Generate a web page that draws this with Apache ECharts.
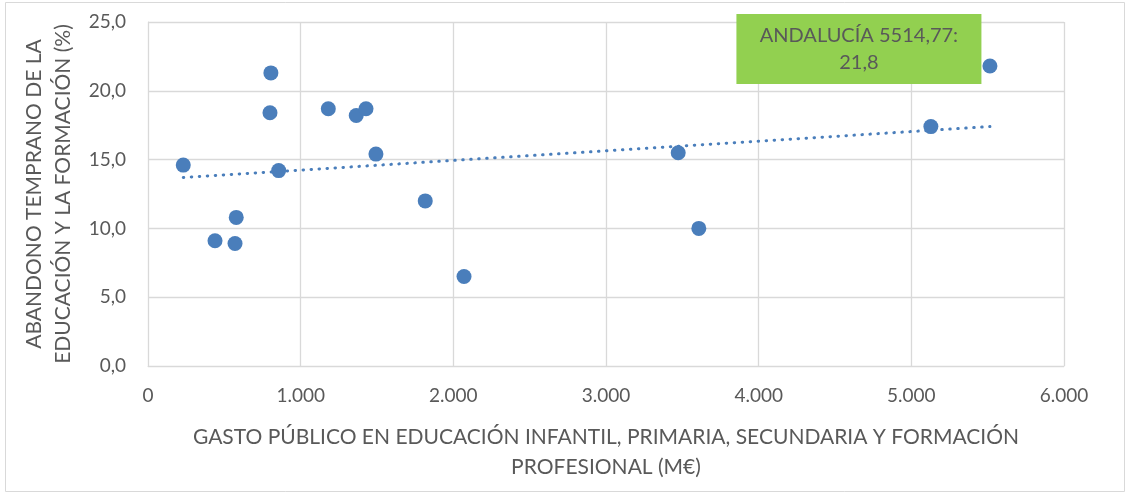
<!DOCTYPE html>
<html><head><meta charset="utf-8">
<script src="https://cdn.jsdelivr.net/npm/echarts@6/dist/echarts.min.js"></script>
<style>html,body{margin:0;padding:0;background:#fff}#c{width:1130px;height:495px}</style>
</head><body><div id="c"></div>
<script>
// Gasto público (M€) and abandono temprano (%) per comunidad
const gasto = [805, 799, 1181, 1364, 1428, 1493, 231, 856, 578, 439, 570, 1816, 2070, 3473, 3608, 5128, 5514.77];
const abandono = [21.3, 18.4, 18.7, 18.2, 18.7, 15.4, 14.6, 14.2, 10.8, 9.1, 8.9, 12.0, 6.5, 15.5, 10.0, 17.4, 21.8];
const trendX = [231, 5514.77];
const trendY = [13.7, 17.4];
const xTicks = [0, 1000, 2000, 3000, 4000, 5000, 6000];
const yTicks = [0, 5, 10, 15, 20, 25];
const labelIndex = 16;
const labelText = 'ANDALUCÍA 5514,77:\n21,8';

const font = 'Lato, "Open Sans", sans-serif';
const txt = '#595959';
const blue = '#4a7ebb';

const pts = gasto.map((g, i) => {
  const d = { value: [g, abandono[i]] };
  if (i === labelIndex) {
    d.label = {
      show: true, position: 'inside', offset: [-131, -17],
      formatter: labelText, backgroundColor: '#92d050',
      color: txt, fontFamily: font, fontSize: 20, lineHeight: 27,
      width: 225, padding: [8, 10], align: 'center'
    };
  }
  return d;
});

const chart = echarts.init(document.getElementById('c'), null, { renderer: 'canvas' });
chart.setOption({
  animation: false,
  backgroundColor: '#fff',
  graphic: [{ type: 'rect', shape: { x: 5.5, y: 2.5, width: 1119, height: 489 }, style: { fill: 'none', stroke: '#d9d9d9', lineWidth: 1 } }],
  grid: { left: 148, right: 66, top: 22, bottom: 129 },
  xAxis: {
    type: 'value', min: xTicks[0], max: xTicks[xTicks.length - 1], interval: 1000,
    axisLine: { show: true, lineStyle: { color: '#d9d9d9' } },
    axisTick: { show: false },
    splitLine: { show: true, lineStyle: { color: '#d9d9d9', width: 1.3 } },
    axisLabel: { color: txt, fontFamily: font, fontSize: 19, margin: 20,
      formatter: v => v === 0 ? '0' : v.toString().replace(/\B(?=(\d{3})+(?!\d))/g, '.') },
    name: 'GASTO PÚBLICO EN EDUCACIÓN INFANTIL, PRIMARIA, SECUNDARIA Y FORMACIÓN\nPROFESIONAL (M€)',
    nameLocation: 'middle', nameGap: 56,
    nameTextStyle: { color: txt, fontFamily: font, fontSize: 21, lineHeight: 30 }
  },
  yAxis: {
    type: 'value', min: yTicks[0], max: yTicks[yTicks.length - 1], interval: 5,
    axisLine: { show: true, lineStyle: { color: '#d9d9d9' } },
    axisTick: { show: false },
    splitLine: { show: true, lineStyle: { color: '#d9d9d9', width: 1.3 } },
    axisLabel: { color: txt, fontFamily: font, fontSize: 19, margin: 22,
      formatter: v => v.toFixed(1).replace('.', ',') },
    name: 'ABANDONO TEMPRANO DE LA\nEDUCACIÓN Y LA FORMACIÓN (%)',
    nameLocation: 'middle', nameGap: 68,
    nameTextStyle: { color: txt, fontFamily: font, fontSize: 21, lineHeight: 29 }
  },
  series: [
    { type: 'line', data: trendX.map((x, i) => [x, trendY[i]]), symbol: 'none', silent: true,
      lineStyle: { color: blue, width: 3, type: [0.5, 7.5], cap: 'round' }, z: 1 },
    { type: 'scatter', data: pts, symbolSize: 15, itemStyle: { color: blue, opacity: 1 }, z: 2 }
  ]
});
</script></body></html>
